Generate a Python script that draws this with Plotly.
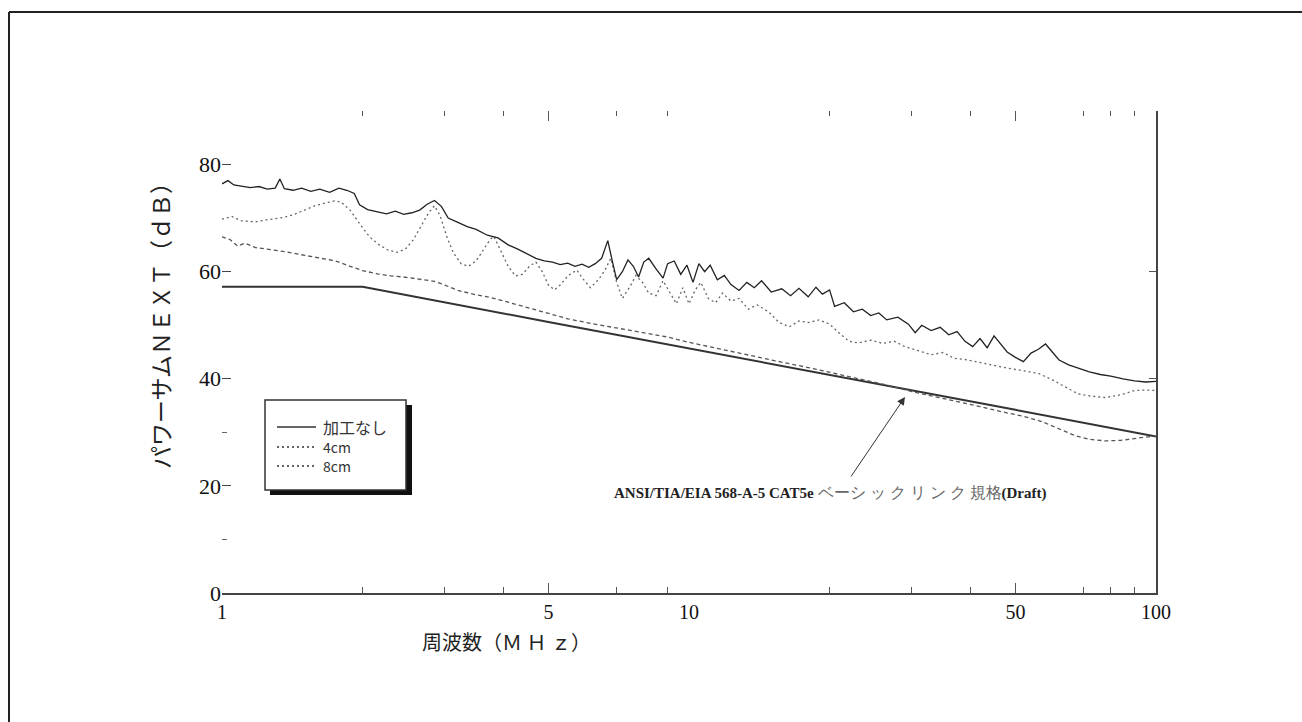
import plotly.graph_objects as go

# ---------------- data ----------------
freq_none = [1.00, 1.03, 1.06, 1.10, 1.15, 1.20, 1.25, 1.30, 1.33, 1.36, 1.42, 1.48, 1.55, 1.62,
             1.70, 1.78, 1.85, 1.92, 1.97, 2.05, 2.15, 2.25, 2.35, 2.45, 2.55, 2.65, 2.75, 2.85,
             2.95, 3.05, 3.2, 3.35, 3.5, 3.7, 3.9, 4.1, 4.3, 4.5, 4.7, 4.9, 5.1, 5.3, 5.5, 5.7,
             5.9, 6.1, 6.3, 6.5, 6.7, 6.85, 7.0, 7.2, 7.4, 7.6, 7.8, 8.0, 8.2, 8.5, 8.8, 9.0,
             9.3, 9.6, 9.9, 10.2, 10.5, 10.8, 11.1, 11.5, 11.9, 12.3, 12.8, 13.3, 13.8, 14.3,
             15.0, 15.8, 16.5, 17.2, 18.0, 18.7, 19.3, 20.0, 20.5, 21.5, 22.5, 23.5, 24.5, 25.5,
             26.5, 28.0, 29.5, 30.5, 31.5, 33.0, 34.5, 36.0, 37.5, 39.0, 40.5, 42.0, 43.5, 45.0,
             46.5, 48.0, 50.0, 52.0, 54.0, 56.0, 58.0, 60.0, 62.0, 65.0, 68.0, 72.0, 76.0, 80.0,
             85.0, 90.0, 95.0, 100.0]
db_none = [76.4, 77.0, 76.2, 76.0, 75.7, 75.9, 75.4, 75.6, 77.3, 75.5, 75.2, 75.6, 75.0, 75.4,
           74.8, 75.6, 75.2, 74.6, 72.5, 71.6, 71.2, 70.8, 71.3, 70.7, 71.0, 71.5, 72.6, 73.3,
           72.2, 70.0, 69.2, 68.4, 67.9, 66.8, 66.3, 65.0, 64.2, 63.3, 62.5, 62.0, 61.8, 61.3,
           61.6, 61.0, 61.4, 60.8, 61.5, 62.5, 65.8, 62.0, 58.5, 60.0, 62.2, 61.0, 59.0, 61.8,
           62.5, 60.5, 58.8, 61.5, 62.0, 59.5, 61.2, 58.0, 61.5, 60.0, 61.2, 58.5, 59.3, 57.6,
           56.5, 58.0, 57.0, 58.3, 56.2, 56.8, 55.5, 56.9, 55.3, 57.1, 55.8, 56.6, 53.5, 54.2,
           52.5, 53.0, 51.8, 52.3, 51.0, 51.5, 50.2, 48.6, 50.0, 49.0, 49.6, 48.2, 48.8, 47.0,
           46.0, 47.5, 45.8, 48.0, 46.5, 45.0, 44.0, 43.2, 44.8, 45.5, 46.5, 45.0, 43.5, 42.6,
           42.0, 41.3, 40.8, 40.5, 40.0, 39.6, 39.4, 39.5]

freq_4cm = [1.00, 1.05, 1.10, 1.18, 1.25, 1.33, 1.42, 1.50, 1.58, 1.66, 1.74, 1.80, 1.88, 1.97,
            2.07, 2.17, 2.27, 2.37, 2.47, 2.57, 2.67, 2.77, 2.85, 2.93, 3.03, 3.13, 3.25, 3.37,
            3.50, 3.62, 3.75, 3.82, 3.95, 4.10, 4.25, 4.40, 4.55, 4.70, 4.85, 5.00, 5.15, 5.30,
            5.50, 5.75, 5.95, 6.15, 6.40, 6.60, 6.80, 7.00, 7.20, 7.45, 7.70, 7.95, 8.20, 8.50,
            8.80, 9.10, 9.40, 9.70, 10.0, 10.3, 10.6, 11.0, 11.4, 11.8, 12.3, 12.8, 13.4, 14.0,
            14.8, 15.6, 16.4, 17.2, 18.0, 19.0, 20.0, 21.0, 22.0, 23.0, 24.5, 26.0, 27.5, 29.0,
            31.0, 33.0, 35.0, 37.0, 39.0, 42.0, 45.0, 48.0, 52.0, 56.0, 60.0, 64.0, 68.0, 72.0,
            78.0, 84.0, 90.0, 95.0, 100.0]
db_4cm = [69.8, 70.3, 69.5, 69.3, 69.7, 70.0, 70.6, 71.4, 72.3, 72.8, 73.2, 73.0, 71.5, 69.0,
          66.5, 65.0, 64.0, 63.6, 64.2, 66.0, 68.5, 71.0, 72.3, 70.5, 66.5, 63.5, 61.5, 61.0,
          62.0, 64.0, 66.0, 66.6, 64.0, 61.0, 59.2, 59.5, 61.0, 61.8, 60.0, 57.5, 56.6, 57.5,
          59.2, 60.3, 58.5, 57.0, 58.5, 60.2, 62.5, 58.0, 55.0, 57.0, 59.3, 58.0, 56.0, 55.5,
          58.3, 56.0, 54.0, 57.0, 54.0, 56.5, 58.0, 55.0, 54.2, 56.0, 54.5, 55.0, 53.0, 53.8,
          52.5, 50.5, 49.7, 50.8, 50.5, 51.0, 50.2, 48.5, 47.0, 46.7, 47.2, 46.6, 47.0, 46.0,
          45.2, 44.5, 44.9, 43.8, 43.6, 43.0, 42.4, 42.0, 41.5, 41.0, 39.8, 38.5, 37.2, 36.8,
          36.5, 37.0, 37.8, 37.9, 37.8]

freq_8cm = [1.00, 1.04, 1.08, 1.12, 1.18, 1.25, 1.35, 1.47, 1.60, 1.75, 1.88, 2.00, 2.15, 2.30,
            2.45, 2.65, 2.85, 3.00, 3.20, 3.45, 3.75, 4.10, 4.50, 5.00, 5.50, 6.20, 7.00, 8.00,
            9.00, 10.0, 12.0, 14.0, 16.0, 18.0, 20.0, 23.0, 26.0, 30.0, 34.0, 38.0, 42.0, 47.0,
            52.0, 57.0, 62.0, 67.0, 72.0, 78.0, 84.0, 90.0, 95.0, 100.0]
db_8cm = [66.5, 66.0, 64.8, 65.3, 64.5, 64.2, 63.8, 63.2, 62.6, 62.0, 61.0, 60.2, 59.6, 59.2,
          59.0, 58.6, 58.2, 57.5, 56.5, 55.8, 55.2, 54.3, 53.3, 52.2, 51.2, 50.3, 49.5, 48.5,
          47.8, 46.8, 45.3, 44.0, 43.0, 42.1, 41.2, 40.0, 39.0, 37.6, 36.6, 35.6, 34.8, 33.8,
          33.0, 32.0, 30.6, 29.4, 28.7, 28.4, 28.5, 28.9, 29.1, 29.3]

freq_limit = [1, 2, 5, 10, 20, 50, 100]
db_limit = [57.2, 57.2, 50.6, 45.7, 40.7, 34.2, 29.2]

x_tick_vals = [1, 5, 10, 50, 100]
x_tick_text = ["1", "5", "10", "50", "100"]
x_major_marks = [5, 50]
x_minor_marks = [2, 3, 4, 7, 9, 20, 30, 40, 70, 80, 90]
y_tick_vals = [0, 20, 40, 60, 80]
y_minor_marks = [10, 30]
y_right_marks = [40, 60]

legend_labels = ["加工なし", "4cm", "8cm"]
y_title = "パワーサムＮＥＸＴ（ｄＢ）"
x_title = "周波数（Ｍ Ｈ ｚ）"
note_text = ("<b>ANSI/TIA/EIA 568-A-5 CAT5e</b> "
             "<span style='color:#666;font-size:16px'>ベーシ ッ ク リ ン ク 規格</span>"
             "<b>(Draft)</b>")

# ---------------- layout geometry ----------------
W, H = 1302, 722
L, R, T, B = 222, 1156, 111, 593


def px(x):
    return (x - L) / (R - L)


def py(y):
    return (B - y) / (B - T)


serif = "Liberation Serif, Times New Roman, serif"
jp = "Noto Sans CJK JP, sans-serif"

fig = go.Figure()
fig.add_trace(go.Scatter(x=freq_limit, y=db_limit, mode="lines", name="limit",
                         line=dict(color="#333333", width=2)))
fig.add_trace(go.Scatter(x=freq_8cm, y=db_8cm, mode="lines", name=legend_labels[2],
                         line=dict(color="#555555", width=1.3, dash="4px,3px")))
fig.add_trace(go.Scatter(x=freq_4cm, y=db_4cm, mode="lines", name=legend_labels[1],
                         line=dict(color="#666666", width=1.3, dash="2px,3px")))
fig.add_trace(go.Scatter(x=freq_none, y=db_none, mode="lines", name=legend_labels[0],
                         line=dict(color="#222222", width=1.3)))

fig.update_layout(
    width=W, height=H, autosize=False,
    margin=dict(l=L, r=W - R, t=T, b=H - B, pad=0),
    paper_bgcolor="white", plot_bgcolor="white",
    showlegend=False,
    xaxis=dict(type="log", range=[0, 2], showgrid=False, zeroline=False,
               showline=True, linecolor="#444", linewidth=2,
               tickmode="array", tickvals=x_tick_vals, ticktext=x_tick_text, ticks="",
               tickfont=dict(family=serif, size=20, color="#111"),
               minor=dict(tickmode="array", tickvals=x_minor_marks, ticks="inside",
                          ticklen=6, tickwidth=1, tickcolor="#555")),
    xaxis2=dict(type="log", range=[0, 2], overlaying="x", side="top", anchor="y",
                showgrid=False, zeroline=False, showline=False, showticklabels=False,
                tickmode="array", tickvals=x_major_marks, ticks="inside", ticklen=10,
                tickwidth=1, tickcolor="#555",
                minor=dict(tickmode="array", tickvals=x_minor_marks, ticks="inside",
                           ticklen=5, tickwidth=1, tickcolor="#555")),
    xaxis3=dict(type="log", range=[0, 2], overlaying="x", side="bottom", anchor="y",
                showgrid=False, zeroline=False, showline=False, showticklabels=False,
                tickmode="array", tickvals=x_major_marks, ticks="inside", ticklen=10,
                tickwidth=1, tickcolor="#555"),
    yaxis=dict(range=[0, 90], showgrid=False, zeroline=False, showline=False,
               tickmode="array", tickvals=y_tick_vals, ticks="inside", ticklen=9,
               tickwidth=1, tickcolor="#444",
               tickfont=dict(family=serif, size=22, color="#111"),
               minor=dict(tickmode="array", tickvals=y_minor_marks, ticks="inside",
                          ticklen=5, tickwidth=1, tickcolor="#666")),
    yaxis2=dict(range=[0, 90], overlaying="y", side="right", anchor="x",
                showgrid=False, zeroline=False, showline=True, linecolor="#444",
                linewidth=2, showticklabels=False, tickmode="array",
                tickvals=y_right_marks, ticks="inside", ticklen=7, tickwidth=1,
                tickcolor="#555"),
)

# dummy traces to activate overlay axes
fig.add_trace(go.Scatter(x=[1], y=[0], xaxis="x2", yaxis="y", mode="none",
                         showlegend=False, hoverinfo="skip"))
fig.add_trace(go.Scatter(x=[1], y=[0], xaxis="x3", yaxis="y", mode="none",
                         showlegend=False, hoverinfo="skip"))
fig.add_trace(go.Scatter(x=[1], y=[0], xaxis="x", yaxis="y2", mode="none",
                         showlegend=False, hoverinfo="skip"))

shapes = []
# outer frame (top and left edges visible)
shapes.append(dict(type="line", xref="paper", yref="paper", x0=px(9), y0=py(12),
                   x1=px(1310), y1=py(12), line=dict(color="#222", width=2)))
shapes.append(dict(type="line", xref="paper", yref="paper", x0=px(9), y0=py(12),
                   x1=px(9), y1=py(730), line=dict(color="#222", width=2)))
# legend box with drop shadow
shapes.append(dict(type="rect", xref="paper", yref="paper", x0=px(270), y0=py(405),
                   x1=px(412), y1=py(495), fillcolor="#111", line=dict(width=0)))
shapes.append(dict(type="rect", xref="paper", yref="paper", x0=px(265), y0=py(400),
                   x1=px(406), y1=py(490), fillcolor="white",
                   line=dict(color="#333", width=1.5)))
legend_rows = [427, 447, 466]
legend_dash = ["solid", "2px,3px", "2px,3px"]
for yy, dsh in zip(legend_rows, legend_dash):
    shapes.append(dict(type="line", xref="paper", yref="paper", x0=px(277), y0=py(yy),
                       x1=px(316), y1=py(yy), line=dict(color="#333", width=1.3, dash=dsh)))
fig.update_layout(shapes=shapes)

annos = []
legend_sizes = [16, 14, 14]
for yy, lab, fs in zip(legend_rows, legend_labels, legend_sizes):
    annos.append(dict(xref="paper", yref="paper", x=px(321), y=py(yy), text=lab,
                      showarrow=False, xanchor="left", yanchor="middle",
                      font=dict(family=jp, size=fs, color="#333")))
annos.append(dict(xref="paper", yref="paper", x=px(160), y=py(320), text=y_title,
                  textangle=-90, showarrow=False, xanchor="center", yanchor="middle",
                  font=dict(family=jp, size=23, color="#222")))
annos.append(dict(xref="paper", yref="paper", x=px(506), y=py(641), text=x_title,
                  showarrow=False, xanchor="center", yanchor="middle",
                  font=dict(family=jp, size=20, color="#222")))
annos.append(dict(xref="paper", yref="paper", x=px(830), y=py(493), text=note_text,
                  showarrow=False, xanchor="center", yanchor="middle",
                  font=dict(family=serif, size=15, color="#222")))
# arrow pointing to the limit line near 29 MHz
annos.append(dict(xref="x", yref="y", x=1.4625, y=36.6, text="", showarrow=True,
                  ax=-55, ay=81, arrowhead=2, arrowsize=1.6, arrowwidth=1,
                  arrowcolor="#333"))
fig.update_layout(annotations=annos)

fig.write_html("out.html")
